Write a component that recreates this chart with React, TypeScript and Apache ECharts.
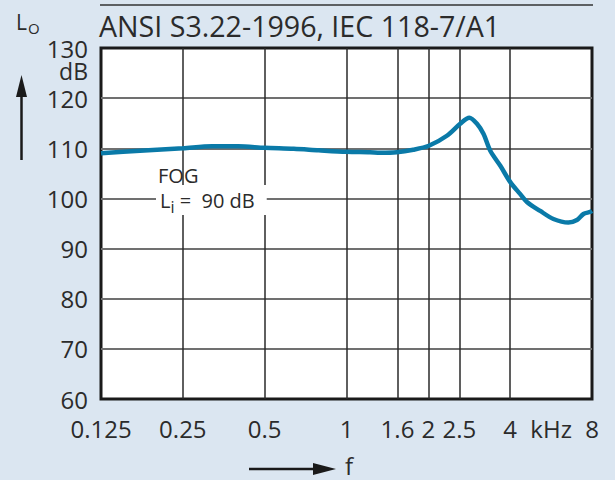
import React, { useEffect, useRef } from "react";
import * as echarts from "echarts";

const freqs = [0.125, 0.174, 0.25, 0.32, 0.4, 0.5, 0.64, 0.79, 1.0, 1.22, 1.33, 1.53, 1.76, 2.01, 2.34, 2.62, 2.83, 3.02, 3.19, 3.38, 3.68, 4.01, 4.35, 4.61, 5.16, 5.77, 6.55, 7.04, 7.44, 7.88, 8];
const levels = [109.0, 109.5, 110.0, 110.4, 110.4, 110.1, 109.9, 109.6, 109.3, 109.2, 109.1, 109.2, 109.7, 110.5, 112.5, 114.9, 116.1, 114.9, 112.9, 109.5, 106.5, 103.2, 100.9, 99.3, 97.5, 95.9, 95.2, 95.7, 96.9, 97.3, 97.5];
// extra grid lines as drawn in the picture (labelled 1.6 and 2.5)
const extraTicks = [1.54, 2.6];
const extraTickLabels = ["1.6", "2.5"];
const unitPos = 5.66;
const title = "ANSI S3.22-1996, IEC 118-7/A1";

const FONT = "Open Sans";
const TXT = "#2b2b2b";
const BG = "#dbe6f1";
const LABEL_SIZE = 24;
const X_MARGIN = 17;

export default function App() {
  const ref = useRef<HTMLDivElement>(null);
  useEffect(() => {
    document.body.style.margin = "0";
    const chart = echarts.init(ref.current!, null, { renderer: "svg" });
    const gridLeft = 101, gridRight = 23, gridTop = 48, gridBottom = 81;
    const option: any = {
      animation: false,
      backgroundColor: BG,
      textStyle: { fontFamily: FONT },
      grid: {
        left: gridLeft, right: gridRight, top: gridTop, bottom: gridBottom,
        show: true, backgroundColor: "#ffffff", borderColor: "#1a1a1a", borderWidth: 3, z: 0,
      },
      xAxis: {
        type: "log", logBase: 2, min: 0.125, max: 8,
        axisLine: { show: false }, axisTick: { show: false },
        axisLabel: {
          color: TXT, fontSize: LABEL_SIZE, fontFamily: FONT, margin: X_MARGIN, lineHeight: 24,
          formatter: (v: number) => String(Number(v.toPrecision(4))),
        },
        splitLine: { show: true, showMinLine: false, showMaxLine: false, lineStyle: { color: "#2a2a2a", width: 1.5 } },
      },
      yAxis: {
        type: "value", min: 60, max: 130, interval: 10,
        axisLine: { show: false }, axisTick: { show: false },
        axisLabel: { color: TXT, fontSize: LABEL_SIZE, fontFamily: FONT, margin: 13, lineHeight: 22, padding: [0, 0, 4, 0] },
        splitLine: { show: true, showMinLine: false, showMaxLine: false, lineStyle: { color: "#707070", width: 2 } },
      },
      series: [
        {
          type: "line",
          data: freqs.map((f, i) => [f, levels[i]]),
          showSymbol: false,
          smooth: 0.3,
          lineStyle: { color: "#0a7aa8", width: 4.5 },
          z: 5,
          markLine: {
            silent: true, symbol: "none", label: { show: false },
            lineStyle: { color: "#2a2a2a", width: 1.5, type: "solid" },
            data: extraTicks.map((t) => ({ xAxis: t })),
            z: 1,
          },
        },
      ],
    };
    chart.setOption(option);

    const axisY = 480 - gridBottom;
    const labelY = axisY + X_MARGIN;
    const tickTexts = extraTicks.map((t, i) => ({
      type: "text",
      x: chart.convertToPixel({ xAxisIndex: 0 }, t) as number,
      y: labelY,
      style: { text: extraTickLabels[i], fill: TXT, font: `${LABEL_SIZE}px "${FONT}"`, lineHeight: 24, align: "center", verticalAlign: "top" },
    }));
    const unitText = {
      type: "text",
      x: chart.convertToPixel({ xAxisIndex: 0 }, unitPos) as number,
      y: labelY,
      style: { text: "kHz", fill: TXT, font: `${LABEL_SIZE}px "${FONT}"`, lineHeight: 24, align: "center", verticalAlign: "top" },
    };

    chart.setOption({
      graphic: [
        { type: "line", shape: { x1: 100, y1: 5, x2: 593, y2: 5 }, style: { stroke: "#333", lineWidth: 1.5 } },
        {
          type: "text", x: 99, y: 25,
          style: { text: title, fill: TXT, font: `28.6px "${FONT}"`, lineHeight: 28, align: "left", verticalAlign: "middle" },
        },
        {
          type: "text", x: 16, y: 22,
          style: {
            text: "L{s|O}", fill: TXT, font: `21px "${FONT}"`, align: "left", verticalAlign: "middle",
            rich: { s: { fontSize: 15, fontFamily: FONT, fill: TXT, padding: [12, 0, 0, 1] } },
          },
        },
        {
          type: "text", x: 88, y: 71,
          style: { text: "dB", fill: TXT, font: `23px "${FONT}"`, lineHeight: 18, align: "right", verticalAlign: "middle" },
        },
        { type: "line", shape: { x1: 21.5, y1: 160, x2: 21.5, y2: 92 }, style: { stroke: "#1a1a1a", lineWidth: 2.5 } },
        { type: "polygon", shape: { points: [[21.5, 75], [16, 97], [27, 97]] }, style: { fill: "#1a1a1a" } },
        { type: "line", shape: { x1: 249, y1: 469, x2: 318, y2: 469 }, style: { stroke: "#1a1a1a", lineWidth: 2.5 } },
        { type: "polygon", shape: { points: [[336, 469], [313, 463], [313, 475]] }, style: { fill: "#1a1a1a" } },
        {
          type: "text", x: 345, y: 465,
          style: { text: "f", fill: TXT, font: `24px "${FONT}"`, lineHeight: 20, align: "left", verticalAlign: "middle" },
        },
        {
          type: "text", x: 158, y: 175, z: 100,
          style: { text: "FOG", fill: TXT, font: `20px "${FONT}"`, align: "left", verticalAlign: "middle" },
        },
        {
          type: "text", x: 156, y: 200, z: 100,
          style: {
            text: "L{s|i} =  90 dB", fill: TXT, font: `20px "${FONT}"`, align: "left", verticalAlign: "middle",
            backgroundColor: "#ffffff", padding: [0, 12, 0, 4],
            rich: { s: { fontSize: 16, fontFamily: FONT, fill: TXT, padding: [14, 0, 0, 0] } },
          },
        },
        ...tickTexts,
        unitText,
      ],
    });
    return () => chart.dispose();
  }, []);
  return <div ref={ref} style={{ width: 615, height: 480 }} />;
}
